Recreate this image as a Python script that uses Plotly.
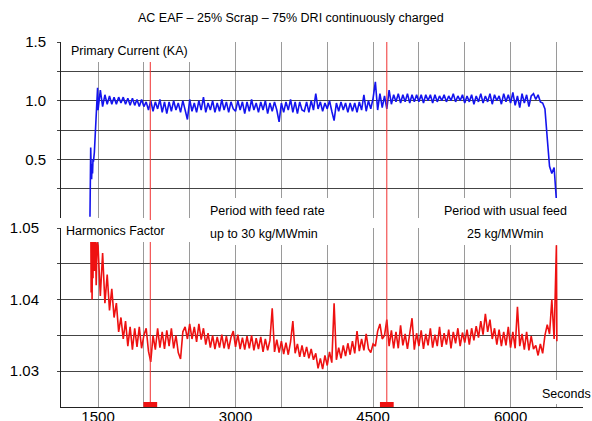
import plotly.graph_objects as go

# ---------------- data ----------------
# sampling grid of the main part of the heat, seconds
seconds = list(range(1500, 6501, 25))

# start of the primary current ramp (seconds, kA)
current_head_seconds = [1412, 1415, 1420, 1425, 1430, 1435, 1440, 1445, 1450, 1460, 1470, 1480, 1490, 1495]
current_head_ka = [0.01, 0.17, 0.60, 0.42, 0.33, 0.46, 0.38, 0.50, 0.48, 0.56, 0.73, 0.87, 1.00, 1.11]

# primary current (kA) on the 25 s grid
current_ka = [
    0.92, 1.09, 0.95, 1.05, 0.97, 1.04, 0.97, 1.03, 0.97, 1.03,
    0.98, 1.03, 0.97, 1.02, 0.96, 1.02, 0.96, 1.01, 0.95, 1.01,
    0.95, 0.99, 0.92, 1.00, 0.91, 0.99, 0.93, 1.01, 0.90, 0.99,
    0.89, 0.99, 0.91, 1.00, 0.92, 0.98, 0.90, 1.00, 0.92, 0.84,
    1.01, 0.91, 0.98, 0.90, 1.00, 0.92, 1.03, 0.90, 0.98, 0.92,
    1.00, 0.90, 0.98, 0.91, 1.01, 0.92, 0.99, 0.90, 0.99, 0.93,
    0.91, 1.00, 0.92, 0.99, 0.89, 0.99, 0.91, 1.01, 0.92, 0.98,
    0.90, 0.99, 0.92, 1.00, 0.89, 0.98, 0.91, 0.99, 0.92, 0.82,
    0.98, 0.90, 0.99, 0.92, 1.01, 0.90, 0.99, 0.89, 0.99, 0.92,
    0.91, 0.99, 0.90, 1.00, 0.92, 1.06, 0.93, 0.99, 0.91, 0.98,
    0.93, 1.00, 0.91, 0.83, 0.98, 0.91, 0.99, 0.92, 0.98, 0.90,
    0.98, 0.91, 0.98, 0.90, 0.99, 0.92, 1.05, 0.91, 1.00, 0.93,
    1.02, 1.16, 0.92, 1.06, 0.94, 1.04, 0.93, 1.09, 0.97, 1.05,
    0.99, 1.06, 0.98, 1.05, 0.99, 1.06, 0.98, 1.05, 0.99, 1.05,
    0.99, 1.05, 0.98, 1.05, 1.00, 1.05, 0.98, 1.05, 0.99, 1.04,
    1.00, 1.05, 0.99, 1.04, 1.00, 1.06, 0.99, 1.04, 1.00, 1.05,
    0.98, 1.04, 0.99, 1.05, 0.97, 1.04, 0.99, 1.06, 0.98, 1.04,
    0.99, 1.06, 0.97, 1.05, 1.00, 1.04, 0.97, 1.06, 0.99, 1.05,
    0.98, 1.07, 0.96, 1.04, 0.94, 1.06, 0.98, 1.05, 0.95, 1.04,
    1.06, 1.01, 1.05, 0.99, 0.98, 0.93, 0.68, 0.44, 0.38, 0.43,
    0.15,
]

# start of the harmonics factor record
harm_head_seconds = [1422, 1425, 1430, 1435, 1440, 1445, 1450, 1460, 1470, 1480, 1490]
harm_head = [1.049, 1.041, 1.050, 1.040, 1.048, 1.043, 1.050, 1.044, 1.049, 1.042, 1.048]

# harmonics factor on the 25 s grid
harmonics = [
    1.0475, 1.0405, 1.0465, 1.0395, 1.0435, 1.0385, 1.0415, 1.0375, 1.0395, 1.0355,
    1.0375, 1.0345, 1.0370, 1.0335, 1.0362, 1.0330, 1.0360, 1.0334, 1.0362, 1.0332,
    1.0350, 1.0360, 1.0328, 1.0313, 1.0350, 1.0330, 1.0360, 1.0333, 1.0355, 1.0331,
    1.0357, 1.0335, 1.0360, 1.0332, 1.0350, 1.0326, 1.0317, 1.0355, 1.0362, 1.0345,
    1.0366, 1.0345, 1.0362, 1.0341, 1.0366, 1.0344, 1.0360, 1.0337, 1.0353, 1.0333,
    1.0350, 1.0331, 1.0348, 1.0333, 1.0351, 1.0332, 1.0349, 1.0331, 1.0347, 1.0356,
    1.0334, 1.0351, 1.0331, 1.0347, 1.0330, 1.0349, 1.0332, 1.0350, 1.0329, 1.0346,
    1.0331, 1.0348, 1.0327, 1.0345, 1.0329, 1.0343, 1.0388, 1.0327, 1.0344, 1.0326,
    1.0342, 1.0324, 1.0340, 1.0323, 1.0341, 1.0370, 1.0325, 1.0338, 1.0320, 1.0336,
    1.0320, 1.0334, 1.0318, 1.0331, 1.0316, 1.0325, 1.0304, 1.0318, 1.0303, 1.0322,
    1.0308, 1.0327, 1.0312, 1.0395, 1.0316, 1.0333, 1.0318, 1.0336, 1.0321, 1.0339,
    1.0323, 1.0342, 1.0325, 1.0356, 1.0328, 1.0345, 1.0329, 1.0352, 1.0331, 1.0326,
    1.0338, 1.0335, 1.0356, 1.0366, 1.0345, 1.0350, 1.0372, 1.0335, 1.0357, 1.0332,
    1.0355, 1.0332, 1.0364, 1.0336, 1.0352, 1.0331, 1.0356, 1.0374, 1.0330, 1.0353,
    1.0335, 1.0357, 1.0331, 1.0352, 1.0336, 1.0360, 1.0333, 1.0351, 1.0335, 1.0362,
    1.0334, 1.0353, 1.0337, 1.0358, 1.0332, 1.0355, 1.0339, 1.0360, 1.0335, 1.0354,
    1.0340, 1.0358, 1.0337, 1.0360, 1.0343, 1.0363, 1.0347, 1.0370, 1.0351, 1.0380,
    1.0355, 1.0372, 1.0345, 1.0360, 1.0337, 1.0358, 1.0335, 1.0355, 1.0336, 1.0362,
    1.0333, 1.0355, 1.0332, 1.0390, 1.0335, 1.0352, 1.0330, 1.0355, 1.0329, 1.0349,
    1.0331, 1.0336, 1.0322, 1.0338, 1.0325, 1.0350, 1.0365, 1.0352, 1.0400, 1.0345,
    1.0476,
]
harm_tail_seconds = [6505]
harm_tail = [1.0342]

# red event markers (seconds)
event_seconds = [2070, 4650]

x_tickvals = [1500, 2000, 2500, 3000, 3500, 4000, 4500, 5000, 5500, 6000, 6500]
x_ticktext = ["1500", "", "", "3000", "", "", "4500", "", "", "6000", ""]
cur_tickvals = [0.25, 0.5, 0.75, 1.0, 1.25, 1.5]
cur_ticktext = ["", "0.5", "", "1.0", "", "1.5"]
harm_tickvals = [1.03, 1.035, 1.04, 1.045, 1.05]
harm_ticktext = ["1.03", "", "1.04", "", "1.05"]

title_text = "AC EAF \u2013 25% Scrap \u2013 75% DRI continuously charged"

# ---------------- layout helpers ----------------
W, H = 592, 421
PLOT_L, PLOT_R, PLOT_T, PLOT_B = 61, 583, 42, 407   # plot area in window pixels
ML, MT = PLOT_L, PLOT_T
MR = W - PLOT_R
MB = H - PLOT_B
PW, PH = PLOT_R - PLOT_L, PLOT_B - PLOT_T


def px(x):
    return (x - PLOT_L) / PW


def py(y):
    return (PLOT_B - y) / PH


FONT = "Liberation Sans, Arial, Helvetica, sans-serif"
BLUE = "#1414ee"
RED = "#ee1111"

fig = go.Figure()
fig.add_trace(go.Scatter(
    x=current_head_seconds + seconds, y=current_head_ka + current_ka,
    mode="lines", line=dict(color=BLUE, width=1.6), xaxis="x", yaxis="y",
    showlegend=False, hoverinfo="skip"))
fig.add_trace(go.Scatter(
    x=harm_head_seconds + seconds + harm_tail_seconds, y=harm_head + harmonics + harm_tail,
    mode="lines", line=dict(color=RED, width=1.6), xaxis="x2", yaxis="y2",
    showlegend=False, hoverinfo="skip"))

xr = [1096, 6790]
top_dom = [py(218), 1.0]
bot_dom = [0.0, py(228)]

common_x = dict(range=xr, tickmode="array", tickvals=x_tickvals, showgrid=True,
                gridcolor="#9a9a9a", gridwidth=1, zeroline=False, automargin=False)

fig.update_layout(
    width=W, height=H, template="none",
    paper_bgcolor="white", plot_bgcolor="white",
    margin=dict(l=ML, r=MR, t=MT, b=MB, pad=0),
    font=dict(family=FONT, color="black"),
    xaxis=dict(**common_x, domain=[0, 1], anchor="y", showticklabels=False,
               showline=False, matches="x2"),
    xaxis2=dict(**common_x, domain=[0, 1], anchor="y2", ticktext=x_ticktext,
                showline=True, linecolor="#222222", linewidth=1, ticks="",
                ticklabelstandoff=-4,
                tickfont=dict(size=15, family=FONT, color="black")),
    yaxis=dict(domain=top_dom, range=[0, 1.5], tickmode="array", tickvals=cur_tickvals,
               ticktext=cur_ticktext, showgrid=True, gridcolor="#444444", gridwidth=1,
               zeroline=False, showline=True, linecolor="#222222", linewidth=1,
               ticks="outside", ticklen=3, tickcolor="#444444", ticklabelstandoff=8,
               tickfont=dict(size=15, family=FONT, color="black"), automargin=False),
    yaxis2=dict(domain=bot_dom, range=[1.025, 1.05], tickmode="array", tickvals=harm_tickvals,
                ticktext=harm_ticktext, showgrid=True, gridcolor="#444444", gridwidth=1,
                zeroline=False, showline=True, linecolor="#222222", linewidth=1,
                ticks="outside", ticklen=3, tickcolor="#444444", ticklabelstandoff=15,
                tickfont=dict(size=15, family=FONT, color="black"), automargin=False),
)

shapes = []
for t in event_seconds:
    shapes.append(dict(type="line", xref="x2", yref="paper", x0=t, x1=t, y0=0, y1=1,
                       line=dict(color="#f03030", width=1), layer="above"))
    shapes.append(dict(type="rect", xref="x2", yref="y2", x0=t - 75, x1=t + 75,
                       y0=1.025, y1=1.0257, fillcolor=RED, line=dict(width=0), layer="above"))

# white label backgrounds (hide grid behind the labels, as in the original)
label_boxes = [
    (62, 36, 207, 62),     # Primary Current (KA)
    (205, 198, 349, 245),  # Period with feed rate
    (421, 198, 590, 245),  # Period with usual feed
    (62, 220, 207, 242),   # Harmonics Factor
    (540, 380, 592, 404),  # Seconds
]
for (x0, y0, x1, y1) in label_boxes:
    shapes.append(dict(type="rect", xref="paper", yref="paper", x0=px(x0), x1=px(x1),
                       y0=py(y1), y1=py(y0), fillcolor="white", line=dict(width=0),
                       layer="above"))
fig.update_layout(shapes=shapes)

ann_font = dict(family=FONT, size=12.5, color="black")
annotations = [
    dict(text=title_text, x=px(291), y=py(18), xanchor="center", yanchor="middle",
         font=dict(family=FONT, size=12.5, color="black")),
    dict(text="Primary Current (KA)", x=px(69), y=py(51), xanchor="left", yanchor="middle", font=ann_font),
    dict(text="Harmonics Factor", x=px(64), y=py(231), xanchor="left", yanchor="middle", font=ann_font),
    dict(text="Period with feed rate", x=px(208), y=py(211), xanchor="left", yanchor="middle", font=ann_font),
    dict(text="up to 30 kg/MWmin", x=px(208), y=py(234), xanchor="left", yanchor="middle", font=ann_font),
    dict(text="Period with usual feed", x=px(505), y=py(211), xanchor="center", yanchor="middle", font=ann_font),
    dict(text="25 kg/MWmin", x=px(505), y=py(234), xanchor="center", yanchor="middle", font=ann_font),
    dict(text="Seconds", x=px(566), y=py(394), xanchor="center", yanchor="middle", font=ann_font),
]
for a in annotations:
    a.update(xref="paper", yref="paper", showarrow=False)
fig.update_layout(annotations=annotations)

fig.write_html("out.html", config={"displayModeBar": False},
               post_script="document.body.style.margin='0';document.body.style.overflow='hidden';")
